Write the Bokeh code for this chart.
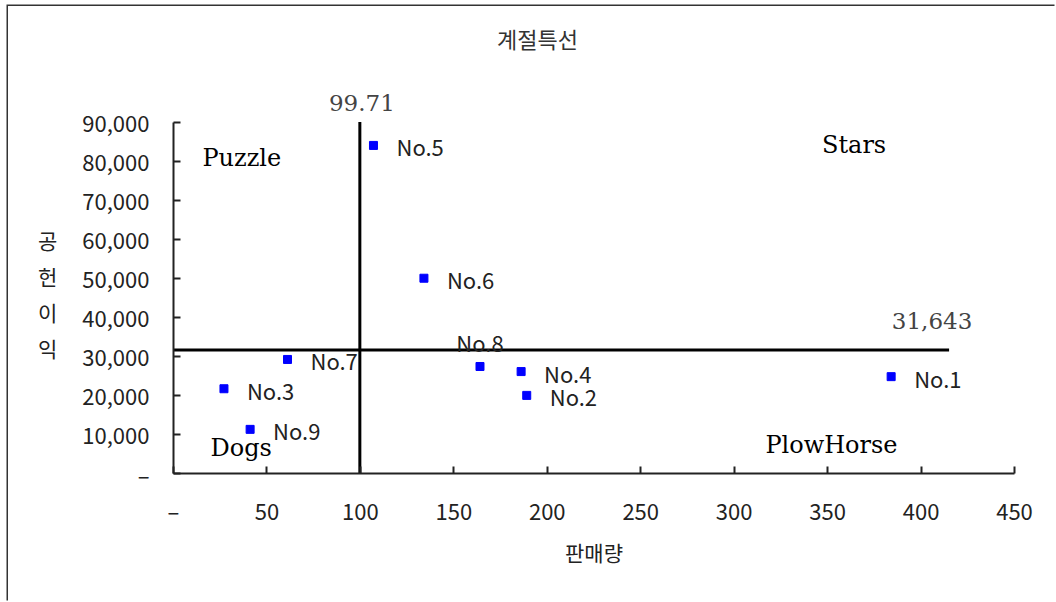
from bokeh.plotting import figure
from bokeh.models import (ColumnDataSource, Label, FixedTicker,
                          NumeralTickFormatter, Range1d)
from bokeh.embed import file_html
from bokeh.resources import INLINE

# menu items: sales volume (판매량) vs contribution profit (공헌이익)
items = ["No.1", "No.2", "No.3", "No.4", "No.5", "No.6", "No.7", "No.8", "No.9"]
sales = [384, 189, 27, 186, 107, 134, 61, 164, 41]
profit = [24800, 20000, 21700, 26100, 84000, 50000, 29200, 27400, 11300]
label_above = ["No.8"]

# averages that split the chart into four quadrants
sales_avg = 99.71
profit_avg = 31643
avg_line_x_end = 415
avg_line_y_end = 90000

x_ticks = [0, 50, 100, 150, 200, 250, 300, 350, 400, 450]
y_ticks = [0, 10000, 20000, 30000, 40000, 50000, 60000, 70000, 80000, 90000]

quadrants = ["Puzzle", "Stars", "Dogs", "PlowHorse"]
title_text = "계절특선"
y_caption = "공헌이익"

KFONT = "Noto Sans CJK KR"
SERIF = "DejaVu Serif"

# page layout (pixels): the plotting frame reaches the top of the canvas so the
# texts above the value axis stay inside it; the axis itself stops at 90,000
CANVAS_TOP = 6
AXIS_TOP = 121.5
AXIS_BOTTOM = 473
y_view_end = y_ticks[-1] * (AXIS_BOTTOM - CANVAS_TOP) / (AXIS_BOTTOM - AXIS_TOP)

p = figure(width=1048, height=596, output_backend="svg", toolbar_location=None,
           x_range=Range1d(x_ticks[0], x_ticks[-1]),
           y_range=Range1d(y_ticks[0], y_view_end),
           min_border_left=165, min_border_right=42,
           min_border_top=0, min_border_bottom=129)
# thin chart-area frame on the left and top edges
p.styles = {"margin-left": "8px", "margin-top": "6px",
            "box-shadow": "-1.5px -1.5px 0 0 #333333"}
p.title.visible = False
p.outline_line_color = None
p.grid.visible = False
p.background_fill_color = "white"
p.border_fill_color = "white"

for ax in (p.xaxis[0], p.yaxis[0]):
    ax.axis_line_color = "#222222"
    ax.axis_line_width = 2
    ax.major_tick_line_color = "#222222"
    ax.major_tick_line_width = 2
    ax.major_tick_in = 7
    ax.major_tick_out = 0
    ax.minor_tick_line_color = None
    ax.major_label_text_font = KFONT
    ax.major_label_text_font_size = "22px"
    ax.major_label_text_color = "#222222"
    ax.formatter = NumeralTickFormatter(format="0,0")
    ax.major_label_overrides = {0: "–"}

p.xaxis.ticker = FixedTicker(ticks=x_ticks)
p.yaxis.ticker = FixedTicker(ticks=y_ticks)
p.yaxis.bounds = (y_ticks[0], y_ticks[-1])
p.xaxis.major_label_standoff = 20
p.yaxis.major_label_standoff = 24
p.xaxis.axis_label = "판매량"
p.xaxis.axis_label_text_font = KFONT
p.xaxis.axis_label_text_font_style = "normal"
p.xaxis.axis_label_text_font_size = "21px"
p.xaxis.axis_label_text_color = "#222222"
p.xaxis.axis_label_standoff = 8

# stacked vertical caption for the profit axis; three leading empty lines keep
# it centred on the 0-90,000 span rather than on the taller frame
p.yaxis.axis_label = "\n" * 3 + "\n".join(y_caption)
p.yaxis.axis_label_orientation = "horizontal"
p.yaxis.axis_label_text_font = KFONT
p.yaxis.axis_label_text_font_style = "normal"
p.yaxis.axis_label_text_font_size = "21px"
p.yaxis.axis_label_text_color = "#222222"
p.yaxis.axis_label_text_line_height = 1.2
p.yaxis.axis_label_standoff = 22

# chart title
p.add_layout(Label(x=364, y=436, x_units="screen", y_units="screen", text=title_text,
                   text_font=KFONT, text_font_size="22px", text_color="#333333",
                   text_align="center", text_baseline="middle"))

# average lines with their values
p.line([sales_avg, sales_avg], [y_ticks[0], avg_line_y_end], line_color="black", line_width=3)
p.line([x_ticks[0], avg_line_x_end], [profit_avg, profit_avg], line_color="black", line_width=3)
p.text(x=[sales_avg], y=[avg_line_y_end], text=[f"{sales_avg:.2f}"],
       text_font={"value": SERIF}, text_font_size="23px", text_color="#444444",
       text_align="center", text_baseline="middle", y_offset=-19, x_offset=2)
p.text(x=[avg_line_x_end], y=[profit_avg], text=[f"{profit_avg:,}"],
       text_font={"value": SERIF}, text_font_size="23px", text_color="#444444",
       text_align="center", text_baseline="middle", y_offset=-29, x_offset=-17)

# menu points
src = ColumnDataSource(dict(x=sales, y=profit, name=items))
p.scatter("x", "y", source=src, marker="square", size=8, fill_color="#0000FF",
          line_color="#0000FF")

side = ColumnDataSource(dict(
    x=[s for s, n in zip(sales, items) if n not in label_above],
    y=[v for v, n in zip(profit, items) if n not in label_above],
    name=[n for n in items if n not in label_above]))
top = ColumnDataSource(dict(
    x=[s for s, n in zip(sales, items) if n in label_above],
    y=[v for v, n in zip(profit, items) if n in label_above],
    name=[n for n in items if n in label_above]))
p.text("x", "y", text="name", source=side, text_font={"value": KFONT},
       text_font_size="22px", text_color="#222222", text_align="left",
       text_baseline="middle", x_offset=23, y_offset=1)
p.text("x", "y", text="name", source=top, text_font={"value": KFONT},
       text_font_size="22px", text_color="#222222", text_align="center",
       text_baseline="middle", y_offset=-24)

# quadrant captions
quad_pos = {"Puzzle": (15.5, 80800), "Stars": (347, 84100),
            "Dogs": (19.8, 6650), "PlowHorse": (316.7, 7400)}
for q in quadrants:
    qx, qy = quad_pos[q]
    p.add_layout(Label(x=qx, y=qy, text=q, text_font=SERIF, text_font_size="24px",
                       text_color="black", text_align="left", text_baseline="middle"))

open("out.html", "w").write(file_html(p, INLINE))
